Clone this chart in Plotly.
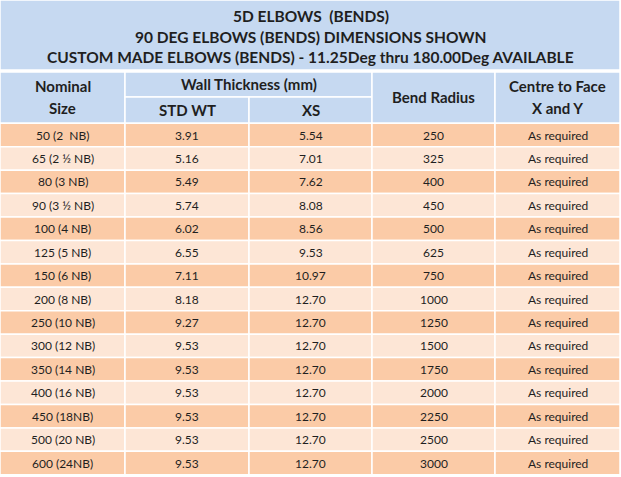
import plotly.graph_objects as go

title_lines = ["5D ELBOWS  (BENDS)", "90 DEG ELBOWS (BENDS) DIMENSIONS SHOWN",
               "CUSTOM MADE ELBOWS (BENDS) - 11.25Deg thru 180.00Deg AVAILABLE"]
nominal = ["50 (2  NB)", "65 (2 ½ NB)", "80 (3 NB)", "90 (3 ½ NB)", "100 (4 NB)", "125 (5 NB)",
           "150 (6 NB)", "200 (8 NB)", "250 (10 NB)", "300 (12 NB)", "350 (14 NB)",
           "400 (16 NB)", "450 (18NB)", "500 (20 NB)", "600 (24NB)"]
std_wt = ["3.91", "5.16", "5.49", "5.74", "6.02", "6.55", "7.11", "8.18", "9.27", "9.53",
          "9.53", "9.53", "9.53", "9.53", "9.53"]
xs = ["5.54", "7.01", "7.62", "8.08", "8.56", "9.53", "10.97", "12.70", "12.70", "12.70",
      "12.70", "12.70", "12.70", "12.70", "12.70"]
bend_radius = ["250", "325", "400", "450", "500", "625", "750", "1000", "1250", "1500",
               "1750", "2000", "2250", "2500", "3000"]
centre_face = ["As required"] * 15

W, H = 621, 477
col_x = [0, 125, 249, 372, 495, 620]
title_top, title_bot = 0, 70
head_top, head_mid, head_bot = 72, 97, 123.3
row_h = 23.43
blue = "#C6D9F1"
peach = ["#FBCBA7", "#FDE6D6"]
txt = "#1F1F1F"
font = "Lato"

shapes, ann = [], []

def rect(x0, y0, x1, y1, color):
    shapes.append(dict(type="rect", x0=x0, x1=x1, y0=y0, y1=y1, fillcolor=color,
                       line=dict(color="white", width=1.5), layer="below"))

def label(x, y, text, size, bold=False):
    ann.append(dict(x=x, y=y, text=f"<b>{text}</b>" if bold else text, showarrow=False,
                    font=dict(family=font, size=size, color=txt), xanchor="center", yanchor="middle"))

# title block
rect(0, title_top, W - 1, title_bot, blue)
for i, t in enumerate(title_lines):
    label(W / 2, 16 + i * 20.5, t, 15.5, True)

# header
rect(col_x[0], head_top, col_x[1], head_bot, blue)
rect(col_x[1], head_top, col_x[3], head_mid, blue)
rect(col_x[1], head_mid, col_x[2], head_bot, blue)
rect(col_x[2], head_mid, col_x[3], head_bot, blue)
rect(col_x[3], head_top, col_x[4], head_bot, blue)
rect(col_x[4], head_top, col_x[5], head_bot, blue)
label((col_x[0] + col_x[1]) / 2, 86, "Nominal", 15, True)
label((col_x[0] + col_x[1]) / 2, 108, "Size", 15, True)
label((col_x[1] + col_x[3]) / 2, 84, "Wall Thickness (mm)", 15, True)
label((col_x[1] + col_x[2]) / 2, 110, "STD WT", 15, True)
label((col_x[2] + col_x[3]) / 2, 110, "XS", 15, True)
label((col_x[3] + col_x[4]) / 2, 97, "Bend Radius", 15, True)
label((col_x[4] + col_x[5]) / 2, 86, "Centre to Face", 15, True)
label((col_x[4] + col_x[5]) / 2, 108, "X and Y", 15, True)

# body
columns = [nominal, std_wt, xs, bend_radius, centre_face]
for r in range(len(nominal)):
    y0 = head_bot + r * row_h
    for c, col in enumerate(columns):
        rect(col_x[c], y0, col_x[c + 1], y0 + row_h, peach[r % 2])
        label((col_x[c] + col_x[c + 1]) / 2, y0 + row_h / 2, col[r], 12)

fig = go.Figure()
fig.update_layout(
    width=W, height=H, margin=dict(l=0, r=0, t=0, b=0),
    paper_bgcolor="white", plot_bgcolor="white",
    xaxis=dict(range=[0, W], visible=False, fixedrange=True),
    yaxis=dict(range=[H, 0], visible=False, fixedrange=True),
    shapes=shapes, annotations=ann, showlegend=False,
)
fig.write_html("out.html", config=dict(displayModeBar=False),
               post_script="document.body.style.margin='0';document.body.style.overflow='hidden';")
